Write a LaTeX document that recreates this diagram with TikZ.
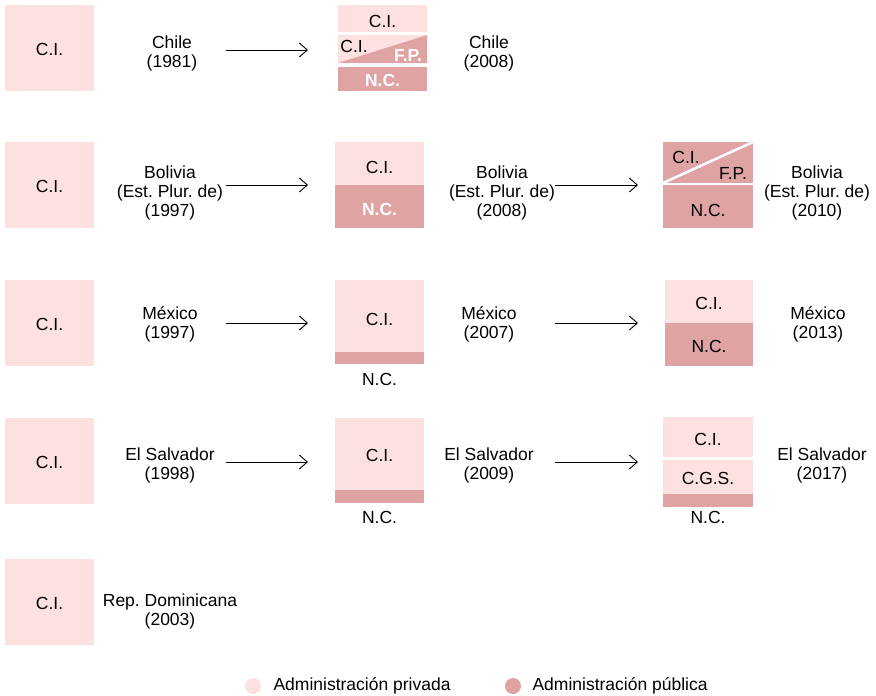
\documentclass[tikz,border=0pt]{standalone}
\usepackage{fontspec}
\setmainfont{Liberation Sans}
\usetikzlibrary{positioning,calc,arrows.meta}
\definecolor{privada}{HTML}{FDE0E0}
\definecolor{publica}{HTML}{E0A3A3}
\frenchspacing

\begin{document}
\begin{tikzpicture}[x=1pt, y=-1pt, font=\fontsize{17.5}{19}\selectfont,
    priv/.style={fill=privada},
    publ/.style={fill=publica},
    blanco/.style={text=white, font=\fontsize{17.5}{19}\selectfont\bfseries},
    flecha/.style={-{Straight Barb[length=8pt, width=14pt]}, line width=0.9pt}]
          \useasboundingbox (0, 0) rectangle (876, 696);%
          % columna de origen
          \foreach \y/\n in {5/1, 142/2, 280/3, 418/4, 559/5} {%
            \fill [priv] (5, \y) rectangle+(89, 86);%
            \node (ci\n) at (49.5, \y+44) {C.I.};%
          }
          \node [align=center] (l1a) at (172, 53) {Chile\\(1981)};%
          \node [align=center] (l2a) at (170, 193) {Bolivia\\(Est. Plur. de)\\(1997)};%
          \node [align=center] (l3a) at (170, 324) {México\\(1997)};%
          \node [align=center] (l4a) at (170, 465) {El Salvador\\(1998)};%
          \node [align=center] (l5a) at (170, 611) {Rep. Dominicana\\(2003)};%
          % Chile 2008
          \fill [priv] (338, 5) rectangle (427, 32);%
          \fill [priv] (338, 35) -- (427, 35) -- (338, 63) -- cycle;%
          \fill [publ] (427, 35) -- (427, 63) -- (338, 63) -- cycle;%
          \fill [publ] (338, 67) rectangle (427, 91);%
          \node (b1ci) at (382.5, 21) {C.I.};%
          \node (b1cj) at (354, 46) {C.I.};%
          \node [blanco] (b1fp) at (408, 55) {F.P.};%
          \node [blanco] (b1nc) at (382.5, 80) {N.C.};%
          \node [align=center] (l1b) at (489, 53) {Chile\\(2008)};%
          % Bolivia 2008
          \fill [priv] (335, 142) rectangle (424, 185);%
          \fill [publ] (335, 185) rectangle (424, 228);%
          \node (b2ci) at (379.5, 167) {C.I.};%
          \node [blanco] (b2nc) at (379.5, 209) {N.C.};%
          \node [align=center] (l2b) at (502, 193) {Bolivia\\(Est. Plur. de)\\(2008)};%
          % Bolivia 2010
          \fill [publ] (663, 142) rectangle (753, 228);%
          \draw [white, line width=2.5pt] (663, 184) -- (753, 184);%
          \draw [white, line width=2.5pt] (663, 183) -- (753, 142);%
          \node (c2ci) at (686, 157) {C.I.};%
          \node (c2fp) at (733, 173) {F.P.};%
          \node (c2nc) at (708, 210) {N.C.};%
          \node [align=center] (l2c) at (817, 193) {Bolivia\\(Est. Plur. de)\\(2010)};%
          % México 2007
          \fill [priv] (335, 280) rectangle (424, 352);%
          \fill [publ] (335, 352) rectangle (424, 364);%
          \node (b3ci) at (379.5, 319) {C.I.};%
          \node (b3nc) at (379.5, 379) {N.C.};%
          \node [align=center] (l3b) at (489, 324) {México\\(2007)};%
          % México 2013
          \fill [priv] (665, 280) rectangle (753, 323);%
          \fill [publ] (665, 323) rectangle (753, 366);%
          \node (c3ci) at (709, 303) {C.I.};%
          \node (c3nc) at (709, 346) {N.C.};%
          \node [align=center] (l3c) at (818, 324) {México\\(2013)};%
          % El Salvador 2009
          \fill [priv] (335, 418) rectangle (424, 490);%
          \fill [publ] (335, 490) rectangle (424, 503);%
          \node (b4ci) at (379.5, 455) {C.I.};%
          \node (b4nc) at (379.5, 517) {N.C.};%
          \node [align=center] (l4b) at (489, 465) {El Salvador\\(2009)};%
          % El Salvador 2017
          \fill [priv] (663, 417) rectangle (753, 457);%
          \fill [priv] (663, 460) rectangle (753, 494);%
          \fill [publ] (663, 494) rectangle (753, 507);%
          \node (c4ci) at (708, 439) {C.I.};%
          \node (c4cg) at (708, 478) {C.G.S.};%
          \node (c4nc) at (708, 517) {N.C.};%
          \node [align=center] (l4c) at (822, 465) {El Salvador\\(2017)};%
          % flechas
          \foreach \y/\n in {50/1, 185/2, 323/3, 462/4} {%
            \coordinate (f\n a) at (226, \y);%
            \coordinate (f\n b) at (308, \y);%
            \draw [flecha] (f\n a) -- (f\n b);%
          }
          \foreach \y/\n in {185/2, 323/3, 462/4} {%
            \coordinate (g\n a) at (555, \y);%
            \coordinate (g\n b) at (638, \y);%
            \draw [flecha] (g\n a) -- (g\n b);%
          }
          % leyenda
          \fill [priv] (253, 686) circle (8);%
          \node [anchor=west] (leg1) at (270, 686) {Administración privada};%
          \fill [publ] (513, 686) circle (8);%
          \node [anchor=west] (leg2) at (529, 686) {Administración pública};%
        \end{tikzpicture}
\end{document}
